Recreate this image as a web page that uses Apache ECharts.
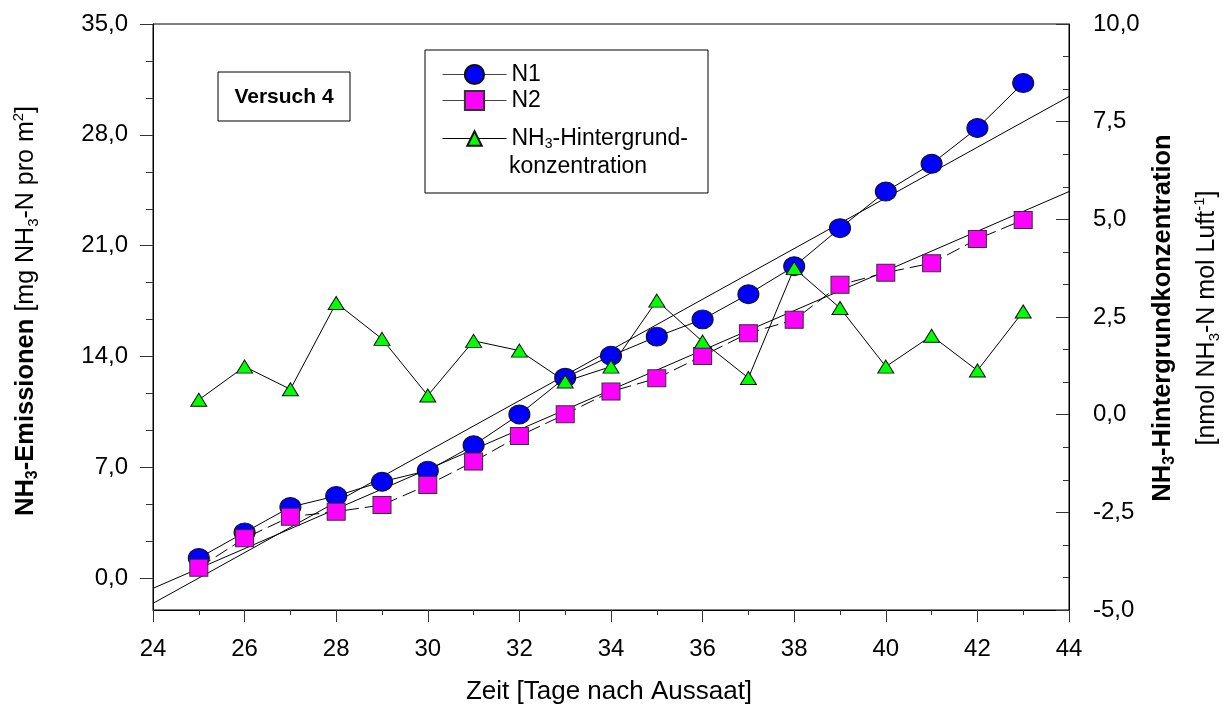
<!DOCTYPE html>
<html>
<head>
<meta charset="utf-8">
<script src="https://cdn.jsdelivr.net/npm/echarts@6/dist/echarts.min.js"></script>
<style>html,body{margin:0;background:#fff}#chart{width:1223px;height:706px}</style>
</head>
<body>
<div id="chart"></div>
<script>
// Versuch 4 - NH3 emissions (left) and background concentration (right)
const FONT = '"Liberation Sans", Arial, Helvetica, sans-serif';

const days = [25, 26, 27, 28, 29, 30, 31, 32, 33, 34, 35, 36, 37, 38, 39, 40, 41, 42, 43];
const n1   = [1.28, 2.9, 4.5, 5.2, 6.1, 6.8, 8.4, 10.35, 12.67, 14.05, 15.26, 16.35, 17.94, 19.7, 22.11, 24.42, 26.17, 28.43, 31.27];
const n2   = [0.67, 2.53, 3.89, 4.21, 4.63, 5.89, 7.37, 8.99, 10.36, 11.79, 12.63, 14.04, 15.48, 16.32, 18.53, 19.3, 19.9, 21.42, 22.63];
const nh3  = [0.38, 1.23, 0.65, 2.86, 1.94, 0.49, 1.89, 1.64, 0.85, 1.23, 2.92, 1.87, 0.94, 3.75, 2.73, 1.23, 2.02, 1.13, 2.64];

const trendX  = [24, 44];
const trendN1 = [-1.58, 30.42];
const trendN2 = [-0.63, 24.42];

// left axis ticks (labels every 7, minor every 7/3)
const leftMajor = [0, 7, 14, 21, 28, 35];
const leftMinor = [2.333, 4.667, 9.333, 11.667, 16.333, 18.667, 23.333, 25.667, 30.333, 32.667];

const comma = v => v.toFixed(1).replace('.', ',');
const pairs = (xs, ys) => xs.map((x, i) => [x, ys[i]]);

const chart = echarts.init(document.getElementById('chart'));

const tickLabel = { color: '#000', fontFamily: FONT, fontSize: 24 };
const richTitle = {
  b:  { fontFamily: FONT, fontSize: 25.5, fontWeight: 'bold', fill: '#000', lineHeight: 30 },
  bs: { fontFamily: FONT, fontSize: 16, fontWeight: 'bold', fill: '#000', lineHeight: 16, verticalAlign: 'bottom' },
  n:  { fontFamily: FONT, fontSize: 25, fill: '#000', lineHeight: 30 },
  s:  { fontFamily: FONT, fontSize: 15, fill: '#000', lineHeight: 16, verticalAlign: 'bottom' },
  p:  { fontFamily: FONT, fontSize: 15, fill: '#000', lineHeight: 16, verticalAlign: 'top' },
};

chart.setOption({
  animation: false,
  backgroundColor: '#fff',
  grid: { left: 153, right: 154, top: 24, bottom: 96, show: true, borderColor: '#000', borderWidth: 1 },
  xAxis: {
    type: 'value', min: 24, max: 44, interval: 2,
    axisLine: { onZero: false, lineStyle: { color: '#000' } },
    axisTick: { length: 12, lineStyle: { color: '#333' } },
    minorTick: { show: true, splitNumber: 2, length: 5, lineStyle: { color: '#333' } },
    axisLabel: { ...tickLabel, margin: 27 },
    splitLine: { show: false },
  },
  yAxis: [
    {
      type: 'value', position: 'left', min: -2, max: 35,
      axisLine: { show: true, onZero: false, lineStyle: { color: '#000' } },
      axisTick: { show: true, length: 13, customValues: leftMajor, lineStyle: { color: '#333' } },
      axisLabel: { ...tickLabel, margin: 25, customValues: leftMajor, formatter: comma },
      splitLine: { show: false },
    },
    {
      type: 'value', position: 'right', min: -5, max: 10, interval: 2.5,
      axisLine: { show: true, onZero: false, lineStyle: { color: '#000' } },
      axisTick: { show: true, inside: true, length: 13, lineStyle: { color: '#333' } },
      minorTick: { show: true, splitNumber: 3, length: 6, lineStyle: { color: '#333' } },
      axisLabel: { ...tickLabel, margin: 24, formatter: comma },
      splitLine: { show: false },
    },
    {
      // minor ticks of the left axis
      type: 'value', position: 'left', min: -2, max: 35,
      axisLine: { show: false, onZero: false },
      axisTick: { show: true, length: 7, customValues: leftMinor, lineStyle: { color: '#333' } },
      axisLabel: { show: false },
      splitLine: { show: false },
    },
  ],
  legend: [
    {
      data: ['N1', 'N2'], orient: 'vertical', left: 437, top: 58,
      itemWidth: 64, itemHeight: 24, itemGap: 3,
      lineStyle: { type: 'solid', width: 1, color: '#444' },
      textStyle: { color: '#000', fontFamily: FONT, fontSize: 23 },
    },
    {
      data: ['NH3-Hintergrundkonzentration'], orient: 'vertical', left: 437, top: 122,
      itemWidth: 64, itemHeight: 18,
      lineStyle: { type: 'solid', width: 1, color: '#000' },
      formatter: () => '{a|NH}{s|3}{a|-Hintergrund-}',
      textStyle: {
        rich: {
          a: { color: '#000', fontFamily: FONT, fontSize: 23, lineHeight: 26 },
          s: { color: '#000', fontFamily: FONT, fontSize: 14, lineHeight: 14, verticalAlign: 'bottom' },
        },
      },
    },
  ],
  graphic: [
    { type: 'rect', z: 3, shape: { x: 425, y: 50, width: 283, height: 143 },
      style: { fill: '#fff', stroke: '#000', lineWidth: 1 } },
    { type: 'text', z: 5, x: 509, y: 167,
      style: { text: 'konzentration', fill: '#000', font: '23px ' + FONT, align: 'left', verticalAlign: 'middle' } },
    { type: 'rect', z: 3, shape: { x: 218, y: 72, width: 132, height: 49 },
      style: { fill: '#fff', stroke: '#000', lineWidth: 1 } },
    { type: 'text', z: 5, x: 284, y: 97,
      style: { text: 'Versuch 4', fill: '#000', font: 'bold 21px ' + FONT, align: 'center', verticalAlign: 'middle' } },
    { type: 'text', x: 26, y: 311, rotation: Math.PI / 2,
      style: { text: '{b|NH}{bs|3}{b|-Emissionen }{n|[mg NH}{s|3}{n|-N pro m}{p|2}{n|]}',
               rich: richTitle, align: 'center', verticalAlign: 'middle' } },
    { type: 'text', x: 1163, y: 318, rotation: Math.PI / 2,
      style: { text: '{b|NH}{bs|3}{b|-Hintergrundkonzentration}',
               rich: richTitle, align: 'center', verticalAlign: 'middle' } },
    { type: 'text', x: 1207, y: 318, rotation: Math.PI / 2,
      style: { text: '{n|[nmol NH}{s|3}{n|-N mol Luft}{p|-1}{n|]}',
               rich: richTitle, align: 'center', verticalAlign: 'middle' } },
    { type: 'text', x: 609, y: 692,
      style: { text: 'Zeit [Tage nach Aussaat]', fill: '#000', font: '26px ' + FONT, align: 'center', verticalAlign: 'middle' } },
  ],
  series: [
    {
      name: 'trendN1', type: 'line', data: pairs(trendX, trendN1), symbol: 'none', silent: true, z: 1,
      lineStyle: { color: '#000', width: 1 },
    },
    {
      name: 'trendN2', type: 'line', data: pairs(trendX, trendN2), symbol: 'none', silent: true, z: 1,
      lineStyle: { color: '#000', width: 1 },
    },
    {
      name: 'N1', type: 'line', data: pairs(days, n1), z: 2,
      symbol: 'circle', symbolSize: [21, 19],
      lineStyle: { color: '#000', width: 1 },
      itemStyle: { color: '#0000ff', borderColor: '#111', borderWidth: 1 },
    },
    {
      name: 'N2', type: 'line', data: pairs(days, n2), z: 3,
      symbol: 'rect', symbolSize: [18, 17],
      lineStyle: { color: '#000', width: 1, type: [14, 6] },
      itemStyle: { color: '#ff00ff', borderColor: '#333', borderWidth: 1 },
    },
    {
      name: 'NH3-Hintergrundkonzentration', type: 'line', data: pairs(days, nh3), yAxisIndex: 1, z: 4,
      symbol: 'triangle', symbolSize: [16, 13],
      lineStyle: { color: '#000', width: 1 },
      itemStyle: { color: '#00ff00', borderColor: '#111', borderWidth: 1 },
    },
  ],
});
</script>
</body>
</html>
